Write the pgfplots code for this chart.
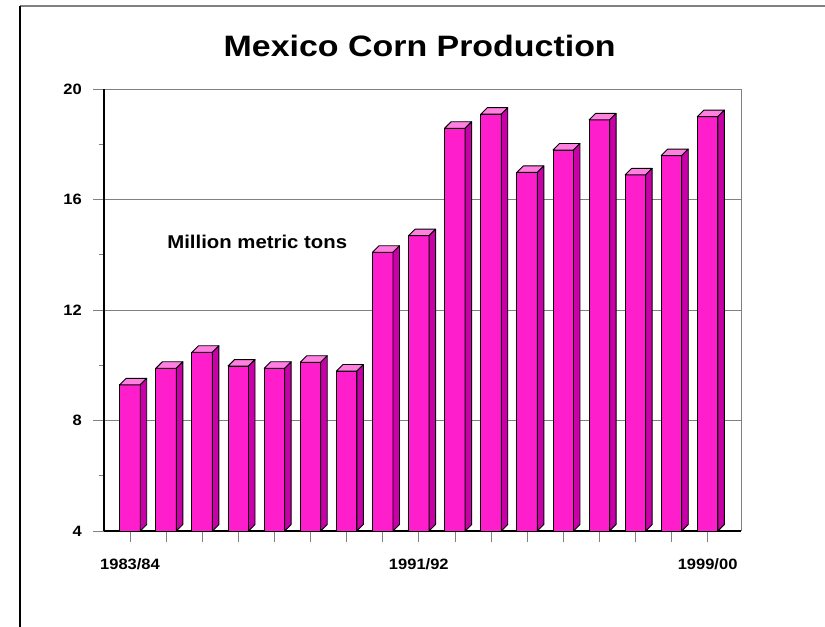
\documentclass[border=0pt]{standalone}
\usepackage{pgfplots}
\usepackage{pgfplotstable}
\pgfplotsset{compat=1.18}
\usepackage{fontspec}
\setmainfont{Liberation Sans}
\newfontfamily\titlefont[FakeStretch=1.15]{Liberation Sans}
\newfontfamily\lblfont[FakeStretch=1.1]{Liberation Sans}
\definecolor{frontcol}{HTML}{FF1ECC}
\definecolor{topcol}{HTML}{FF80E0}
\definecolor{sidecol}{HTML}{C800A8}
\definecolor{gridgray}{HTML}{808080}
\pgfplotstableread{
idx val
0 9.29
1 9.89
2 10.47
3 9.97
4 9.89
5 10.11
6 9.79
7 14.09
8 14.69
9 18.58
10 19.09
11 16.98
12 17.79
13 18.88
14 16.89
15 17.59
16 19.00
}\corndata
\begin{document}
\begin{tikzpicture}
\path[use as bounding box] (-104bp,-96bp) rectangle (721bp,531bp);
\draw[gridgray, line width=2bp] (-84bp,525bp) -- (721bp,525bp);
\draw[black, line width=1.3bp] (-84bp,525bp) -- (-84bp,-96bp);
\begin{axis}[
  at={(0,0)}, anchor=south west,
  scale only axis, width=637bp, height=442bp,
  xmin=-0.72, xmax=16.925, ymin=4, ymax=20,
  axis lines*=left,
  axis line style={black, line width=1.2bp, -},
  ytick={4,8,12,16,20},
  minor ytick={6,10,14,18},
  xtick={0,...,16},
  xticklabels={1983/84,,,,,,,,1991/92,,,,,,,,1999/00},
  tick align=outside,
  major tick length=11bp,
  minor tick length=5bp,
  tick style={gridgray, line width=0.8bp},
  ymajorgrids,
  major grid style={gridgray, line width=0.9bp},
  /pgf/number format/assume math mode=true,
  yticklabel style={font=\lblfont\bfseries\fontsize{15bp}{18bp}\selectfont, anchor=east, inner sep=0pt, xshift=-11bp},
  xticklabel style={font=\lblfont\bfseries\fontsize{15bp}{18bp}\selectfont, anchor=base, inner sep=0pt, yshift=-27bp},
  title={Mexico Corn Production},
  title style={font=\titlefont\bfseries\fontsize{29.5bp}{32bp}\selectfont, at={(0.5,1)}, anchor=base, yshift=26.3bp, xshift=-2.8bp, inner sep=0pt},
  clip=false,
]
\draw[gridgray, line width=0.9bp] (axis cs:16.925,4) -- (axis cs:16.925,20);
\addplot[only marks, scatter, mark=text, text mark={},
  visualization depends on={rawy \as \val},
  scatter/@pre marker code/.code={%
    \pgfmathsetmacro\hh{(\val-4)*27.625}%
    \draw[black, line width=0.9bp, fill=frontcol, line join=round] (-10.25bp,-\hh bp) rectangle (10.25bp,0pt);
    \draw[black, line width=0.9bp, fill=topcol, line join=round] (-10.25bp,0pt) -- (-3.75bp,6.5bp) -- (16.75bp,6.5bp) -- (10.25bp,0pt) -- cycle;
    \draw[black, line width=0.9bp, fill=sidecol, line join=round] (10.25bp,0pt) -- (16.75bp,6.5bp) -- (16.75bp,6.5bp-\hh bp) -- (10.25bp,-\hh bp) -- cycle;
  },
  scatter/@post marker code/.code={},
] table[x=idx,y=val] {\corndata};
\node[anchor=base west, inner sep=0pt, font=\lblfont\bfseries\fontsize{18.5bp}{22bp}\selectfont] at (axis cs:1.03,14.23) {Million metric tons};
\end{axis}
\end{tikzpicture}
\end{document}
